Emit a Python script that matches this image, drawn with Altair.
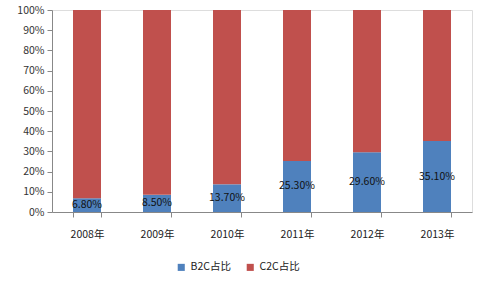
import altair as alt
import pandas as pd

years = ["2008年", "2009年", "2010年", "2011年", "2012年", "2013年"]
b2c = [6.8, 8.5, 13.7, 25.3, 29.6, 35.1]
series = ["B2C占比", "C2C占比"]
colors = ["#4F81BD", "#C0504D"]
yticks = [0, 0.1, 0.2, 0.3, 0.4, 0.5, 0.6, 0.7, 0.8, 0.9, 1.0]

rows = []
for y, b in zip(years, b2c):
    rows.append({"year": y, "series": series[0], "value": b / 100, "ord": 0})
    rows.append({"year": y, "series": series[1], "value": (100 - b) / 100, "ord": 1})
df = pd.DataFrame(rows)
lab = pd.DataFrame({"year": years, "mid": [b / 200 for b in b2c], "text": [f"{b:.2f}%" for b in b2c]})

FONT = "Noto Sans CJK SC"

xaxis = alt.Axis(labelAngle=0, tickBand="extent", labelPadding=12, tickSize=5,
                 domainColor="#888888", tickColor="#888888",
                 labelColor="#222222", labelFontSize=10.5, labelFont=FONT)
yaxis = alt.Axis(format=".0%", values=yticks, tickCount=11, grid=False,
                 labelOverlap=False,
                 tickSize=5, domainColor="#888888", tickColor="#888888",
                 labelColor="#333333", labelFontSize=10.5, labelFont=FONT, labelPadding=3)
xscale = alt.Scale(paddingInner=0.6, paddingOuter=0.3)
yscale = alt.Scale(domain=[0, 1], nice=False)

bars = alt.Chart(df).mark_bar().encode(
    x=alt.X("year:N", sort=years, title=None, scale=xscale, axis=xaxis),
    y=alt.Y("value:Q", stack="zero", title=None, scale=yscale, axis=yaxis),
    color=alt.Color("series:N", sort=series,
                    scale=alt.Scale(domain=series, range=colors),
                    legend=alt.Legend(orient="none", legendX=124, legendY=252,
                                      direction="horizontal", title=None,
                                      symbolType="square", symbolSize=50, symbolStrokeWidth=0,
                                      labelFont=FONT, labelFontSize=10.5, labelColor="#222222",
                                      columnPadding=14)),
    order=alt.Order("ord:Q"),
)

texts = alt.Chart(lab).mark_text(font=FONT, fontSize=10.5, color="#111111").encode(
    x=alt.X("year:N", sort=years, title=None, scale=xscale, axis=xaxis),
    y=alt.Y("mid:Q", title=None, scale=yscale, axis=yaxis),
    text="text:N",
)

chart = (bars + texts).properties(
    width=420, height=202,
    padding={"left": 52, "top": 10, "right": 8, "bottom": 70},
    autosize=alt.AutoSizeParams(type="none"),
).configure_view(stroke=None).configure(background="white")

chart.save("out.html", embed_options={"renderer": "svg", "actions": False})
